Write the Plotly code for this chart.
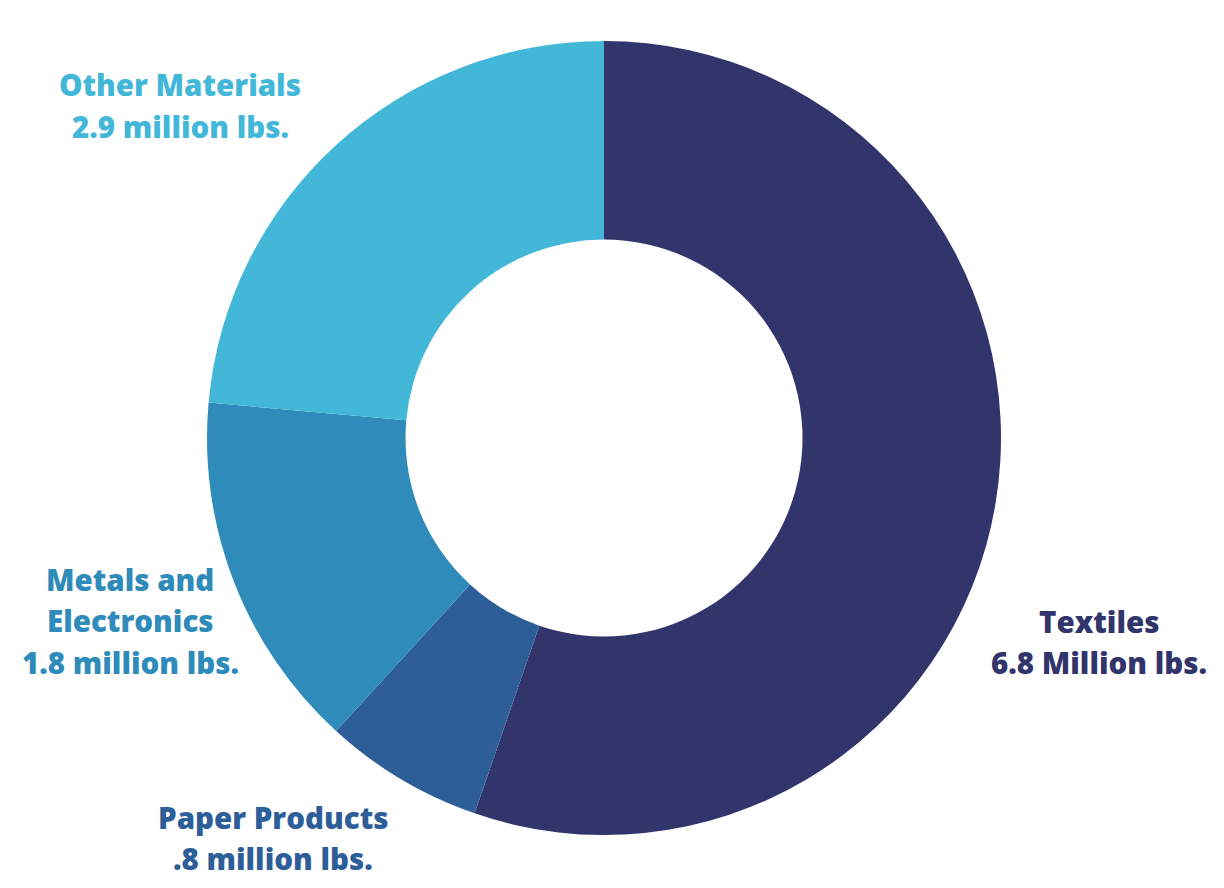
import plotly.graph_objects as go

# data
categories = ['Textiles', 'Paper Products', 'Metals and Electronics', 'Other Materials']
values = [6.8, 0.8, 1.8, 2.9]
colors = ['#32356B', '#2E5E98', '#2E8BBA', '#42B7D7']
label_lines = [
    ['Textiles', '6.8 Million lbs.'],
    ['Paper Products', '.8 million lbs.'],
    ['Metals and', 'Electronics', '1.8 million lbs.'],
    ['Other Materials', '2.9 million lbs.'],
]
# label centre (x px) and first-line y (px) in the 1224x888 canvas
label_pos = [(1099, 621), (273, 817), (130, 579), (180, 85)]

W, H = 1224, 888
LINE_GAP = 41.5


def make_annotations(lines, pos, cols, font_size=29.5):
    annotations = []
    for k in range(len(lines)):
        x0, y0 = pos[k]
        for i, txt in enumerate(lines[k]):
            annotations.append(dict(
                text=txt,
                x=x0 / W, y=1 - (y0 + i * LINE_GAP) / H,
                xref='paper', yref='paper',
                xanchor='center', yanchor='middle',
                font=dict(family='Open Sans', size=font_size, color=cols[k], weight=800),
                showarrow=False))
    return annotations


fig = go.Figure()
fig.add_trace(go.Pie(labels=categories,
                     values=values,
                     hole=0.5,
                     sort=False,
                     direction='clockwise',
                     rotation=0,
                     textinfo='none',
                     marker=dict(colors=colors, line=dict(width=0)),
                     domain=dict(x=[207 / W, 1001 / W], y=[1 - 835 / H, 1 - 41 / H]),
                     hoverinfo='label+value'
                     ))

fig.update_layout(width=W, height=H,
                  annotations=make_annotations(label_lines, label_pos, colors),
                  showlegend=False,
                  margin=dict(l=0, r=0, t=0, b=0),
                  paper_bgcolor='white',
                  plot_bgcolor='white')

# page body has a default 8px margin; drop it so the figure sits at 0,0
fig.write_html("out.html", config={'displayModeBar': False},
               post_script="document.body.style.margin='0px';")
